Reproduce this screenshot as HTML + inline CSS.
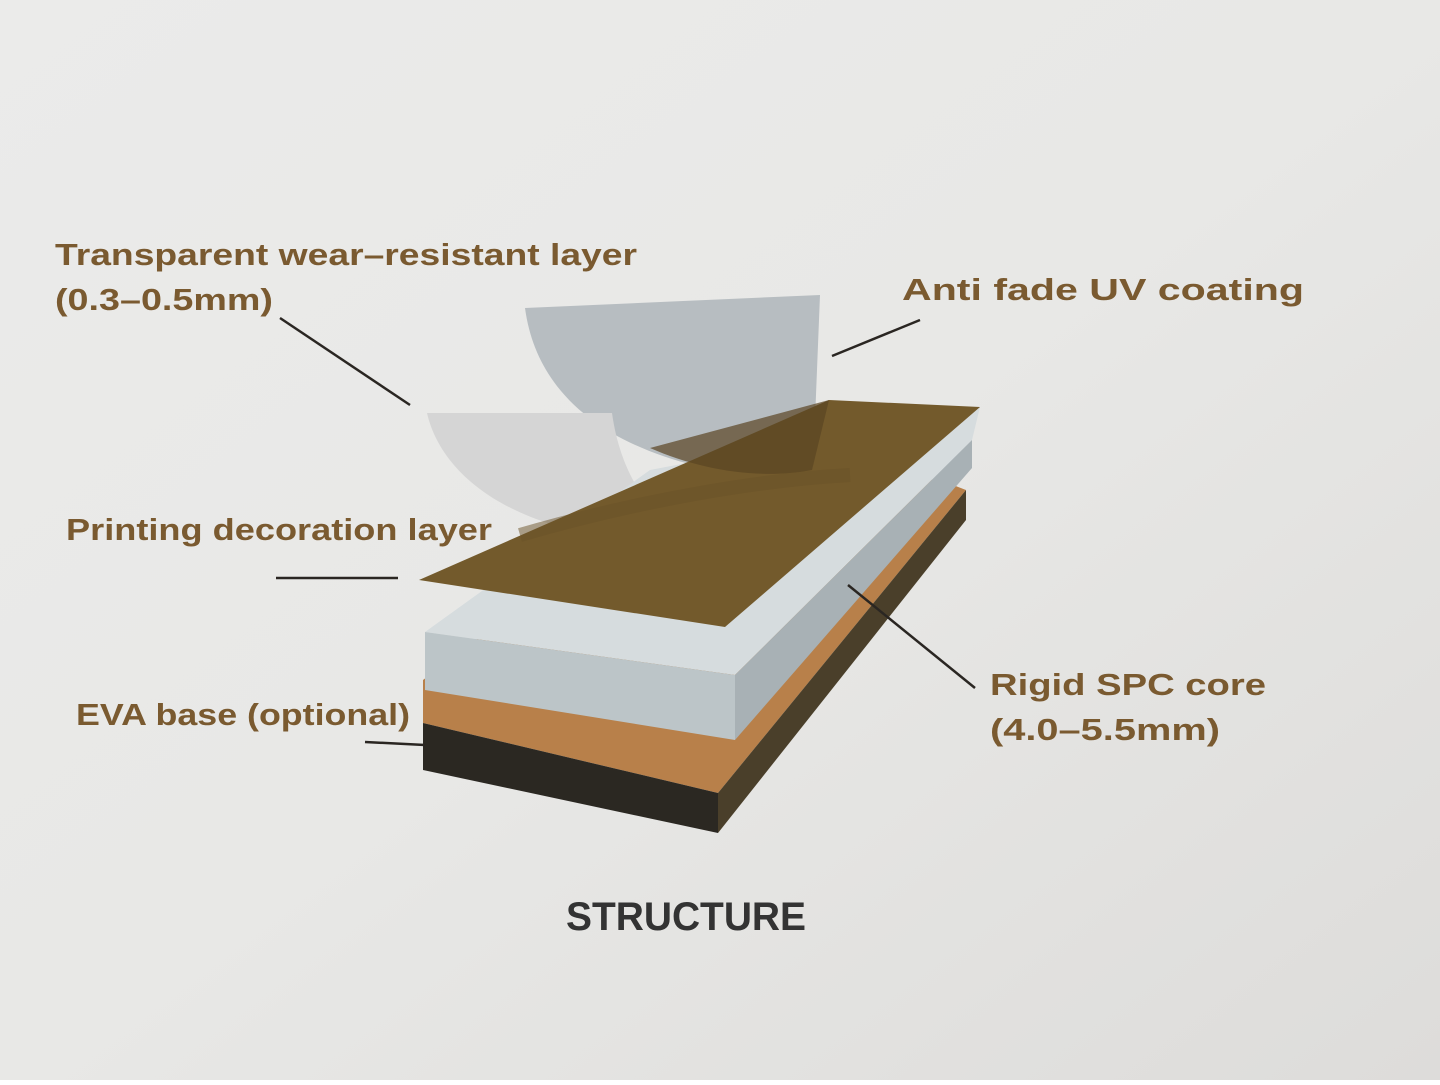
<!DOCTYPE html>
<html><head><style>
html,body{margin:0;padding:0;}
body{width:1440px;height:1080px;overflow:hidden;}
</style></head><body>
<svg width="1440" height="1080" viewBox="0 0 1440 1080" xmlns="http://www.w3.org/2000/svg">
<defs>
<linearGradient id="bg" x1="0" y1="0" x2="1" y2="1">
<stop offset="0" stop-color="#ebebea"/><stop offset="0.5" stop-color="#e8e8e6"/><stop offset="1" stop-color="#dddcda"/>
</linearGradient>
</defs>
<rect width="1440" height="1080" fill="url(#bg)"/>
<!-- UV film -->
<path d="M525,308 L820,295 L815,420 L790,480 C650,470 540,420 525,308 Z" fill="#b7bdc1"/>
<!-- transparent film -->
<path d="M427,413 L612,413 C620,470 645,505 670,525 L600,535 C500,520 440,470 427,413 Z" fill="#d5d5d5"/>
<!-- base -->
<polygon points="423,680 700,470 940,480 966,490 718,793 423,723" fill="#b8804a"/>
<polygon points="423,723 718,793 718,833 423,770" fill="#2b2822"/>
<polygon points="718,793 966,490 966,520 718,833" fill="#4a3f2a"/>
<!-- core -->
<polygon points="425,632 650,470 980,407 972,440 735,675" fill="#d6dcde"/>
<polygon points="425,632 735,675 735,740 425,690" fill="#bcc5c8"/>
<polygon points="735,675 972,440 972,468 735,740" fill="#a8b1b5"/>
<!-- brown decor sheet -->
<polygon points="419,580 725,627 980,407 829,400" fill="#735a2c"/>
<path d="M650,448 C700,470 760,480 812,470 L829,400 Z" fill="#5a4522" opacity="0.7"/>
<path d="M520,535 C640,500 760,480 850,475" stroke="#6a5228" stroke-width="14" fill="none" opacity="0.5"/>
<!-- leader lines -->
<g stroke="#2a2622" stroke-width="2.5" fill="none">
<line x1="280" y1="318" x2="410" y2="405"/>
<line x1="920" y1="320" x2="832" y2="356"/>
<line x1="276" y1="578" x2="398" y2="578"/>
<line x1="848" y1="585" x2="975" y2="688"/>
<line x1="365" y1="742" x2="425" y2="745"/>
</g>
<g font-family="Liberation Sans, sans-serif" font-weight="bold" fill="#7a5a30" font-size="31">
<text x="55" y="265" textLength="582" lengthAdjust="spacingAndGlyphs">Transparent wear–resistant layer</text>
<text x="55" y="310" textLength="218" lengthAdjust="spacingAndGlyphs">(0.3–0.5mm)</text>
<text x="902" y="300" textLength="402" lengthAdjust="spacingAndGlyphs">Anti fade UV coating</text>
<text x="66" y="540" textLength="426" lengthAdjust="spacingAndGlyphs">Printing decoration layer</text>
<text x="990" y="695" textLength="276" lengthAdjust="spacingAndGlyphs">Rigid SPC core</text>
<text x="990" y="740" textLength="230" lengthAdjust="spacingAndGlyphs">(4.0–5.5mm)</text>
<text x="76" y="725" textLength="334" lengthAdjust="spacingAndGlyphs">EVA base (optional)</text>
</g>
<text x="566" y="930" font-family="Liberation Sans, sans-serif" font-weight="bold" font-size="40" fill="#333" textLength="240" lengthAdjust="spacingAndGlyphs">STRUCTURE</text>
</svg>
</body></html>
